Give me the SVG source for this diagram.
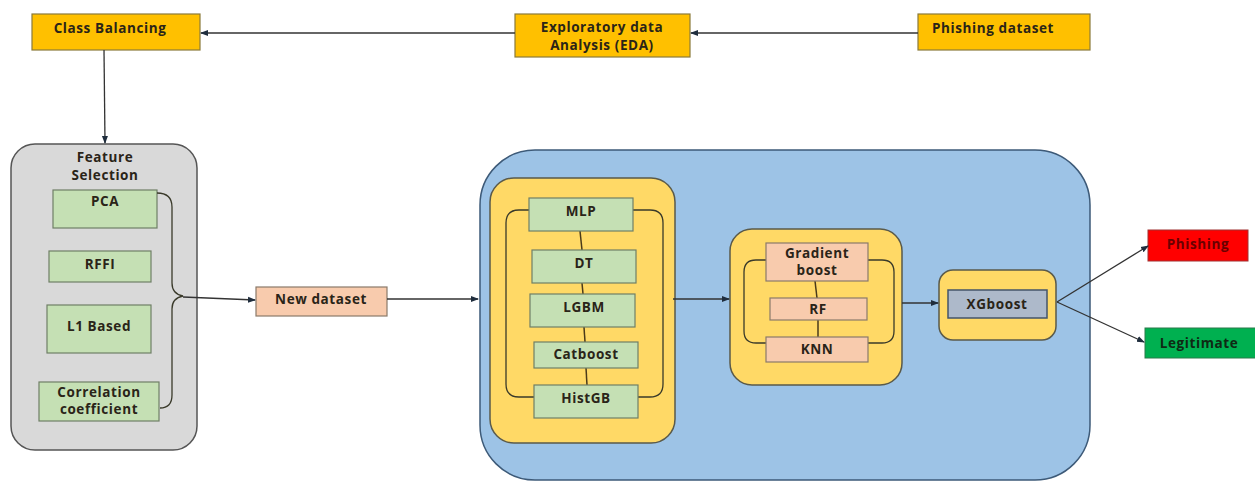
<svg xmlns="http://www.w3.org/2000/svg" width="1255" height="481" viewBox="0 0 1255 481">
<defs>
<marker id="arr" markerWidth="8" markerHeight="8" refX="7" refY="4" orient="auto" markerUnits="userSpaceOnUse">
<path d="M0,1 L8,4 L0,7 Z" fill="#1f2d3d"/>
</marker>
<style>
text{font-family:"Open Sans","Liberation Sans",sans-serif;font-weight:bold;font-size:13.5px;letter-spacing:0.6px;fill:#2a2418;text-anchor:middle}
.top{fill:#ffc000;stroke:#8a7a3a;stroke-width:1.2}
.green{fill:#c5e0b4;stroke:#6f7f66;stroke-width:1.2}
.peach{fill:#f8cbad;stroke:#8a7a6a;stroke-width:1.2}
.yellow{fill:#ffd966;stroke:#5a5a4a;stroke-width:1.5}
.br{fill:none;stroke:#3a3a2a;stroke-width:1.3}
.conn{fill:none;stroke:#333;stroke-width:1.3}
.link{stroke:#4a3a1a;stroke-width:1.5}
</style>
</defs>
<rect width="1255" height="481" fill="#ffffff"/>

<g id="class-balancing"><rect class="top" x="32" y="14" width="168" height="36"/><text x="110" y="33">Class Balancing</text></g>
<g id="eda"><rect class="top" x="515" y="14" width="175" height="43"/><text x="602" y="32">Exploratory data</text><text x="602" y="50">Analysis (EDA)</text></g>
<g id="phishing-dataset"><rect class="top" x="918" y="14" width="172" height="36"/><text x="993" y="33">Phishing dataset</text></g>

<g id="feature-selection">
<rect x="11" y="144" width="186" height="306" rx="24" fill="#d9d9d9" stroke="#555" stroke-width="1.5"/>
<text x="105" y="162">Feature</text><text x="105" y="180">Selection</text>
<rect class="green" x="53" y="190" width="104" height="38"/><text x="105" y="206">PCA</text>
<rect class="green" x="49" y="251" width="102" height="31"/><text x="100" y="269">RFFI</text>
<rect class="green" x="47" y="305" width="104" height="48"/><text x="99" y="331">L1 Based</text>
<rect class="green" x="39" y="382" width="120" height="39"/><text x="99" y="397">Correlation</text><text x="99" y="414">coefficient</text>
<path class="br" d="M157,193 Q172,193 172,207 L172,283 Q172,294 183,296 Q172,298 172,309 L172,395 Q172,408 160,408"/>
</g>

<g id="new-dataset"><rect class="peach" x="256" y="287" width="131" height="29"/><text x="321" y="304">New dataset</text></g>

<g id="model-area"><rect x="480" y="150" width="610" height="330" rx="55" fill="#9dc3e6" stroke="#3d5a78" stroke-width="1.5"/></g>

<g id="base-models">
<rect class="yellow" x="490" y="178" width="185" height="265" rx="24"/>
<path class="br" d="M529,210 L519,210 Q506,210 506,223 L506,384 Q506,397 519,397 L534,397"/>
<path class="br" d="M633,210 L650,210 Q663,210 663,223 L663,384 Q663,397 650,397 L638,397"/>
<line class="link" x1="580" y1="231" x2="582" y2="250"/>
<line class="link" x1="582" y1="283" x2="583" y2="294"/>
<line class="link" x1="584" y1="327" x2="585" y2="342"/>
<line class="link" x1="586" y1="368" x2="587" y2="385"/>
<rect class="green" x="529" y="198" width="104" height="33"/><text x="581" y="216">MLP</text>
<rect class="green" x="532" y="250" width="104" height="33"/><text x="584" y="268">DT</text>
<rect class="green" x="530" y="294" width="105" height="33"/><text x="584" y="312">LGBM</text>
<rect class="green" x="534" y="342" width="104" height="26"/><text x="586" y="359">Catboost</text>
<rect class="green" x="534" y="385" width="104" height="33"/><text x="586" y="403">HistGB</text>
</g>

<g id="meta-models">
<rect class="yellow" x="730" y="229" width="172" height="156" rx="22"/>
<path class="br" d="M766,260 L756,260 Q744,260 744,272 L744,331 Q744,343 756,343 L766,343"/>
<path class="br" d="M868,260 L882,260 Q894,260 894,272 L894,331 Q894,343 882,343 L868,343"/>
<line class="link" x1="815" y1="281" x2="817" y2="298"/>
<line class="link" x1="818" y1="320" x2="818" y2="337"/>
<rect class="peach" x="766" y="243" width="102" height="38"/><text x="817" y="258">Gradient</text><text x="817" y="275">boost</text>
<rect class="peach" x="770" y="298" width="97" height="22"/><text x="818" y="314">RF</text>
<rect class="peach" x="766" y="337" width="102" height="25"/><text x="817" y="354">KNN</text>
</g>

<g id="xgboost">
<rect class="yellow" x="939" y="270" width="117" height="70" rx="14"/>
<rect x="948" y="290" width="99" height="28" fill="#adb9ca" stroke="#44546a" stroke-width="1.5"/>
<text x="997" y="309">XGboost</text>
</g>

<g id="phishing"><rect x="1148" y="230" width="100" height="31" fill="#ff0000" stroke="#a03030" stroke-width="1"/><text x="1198" y="249" style="fill:#6a0000">Phishing</text></g>
<g id="legitimate"><rect x="1145" y="328" width="112" height="30" fill="#00b050" stroke="#2a7a4a" stroke-width="1"/><text x="1199" y="348" style="fill:#0f2a14">Legitimate</text></g>

<g id="connectors">
<line class="conn" x1="918" y1="33" x2="691" y2="33" marker-end="url(#arr)"/>
<line class="conn" x1="515" y1="33" x2="201" y2="33" marker-end="url(#arr)"/>
<line class="conn" x1="104" y1="50" x2="105" y2="143" marker-end="url(#arr)"/>
<line class="conn" x1="183" y1="297" x2="255" y2="300" marker-end="url(#arr)"/>
<line class="conn" x1="387" y1="299" x2="478" y2="299" marker-end="url(#arr)"/>
<line class="conn" x1="673" y1="299" x2="729" y2="299" marker-end="url(#arr)"/>
<line class="conn" x1="902" y1="303" x2="938" y2="303" marker-end="url(#arr)"/>
<line class="conn" x1="1057" y1="302" x2="1148" y2="246" marker-end="url(#arr)"/>
<line class="conn" x1="1057" y1="302" x2="1144" y2="342" marker-end="url(#arr)"/>
</g>
</svg>
